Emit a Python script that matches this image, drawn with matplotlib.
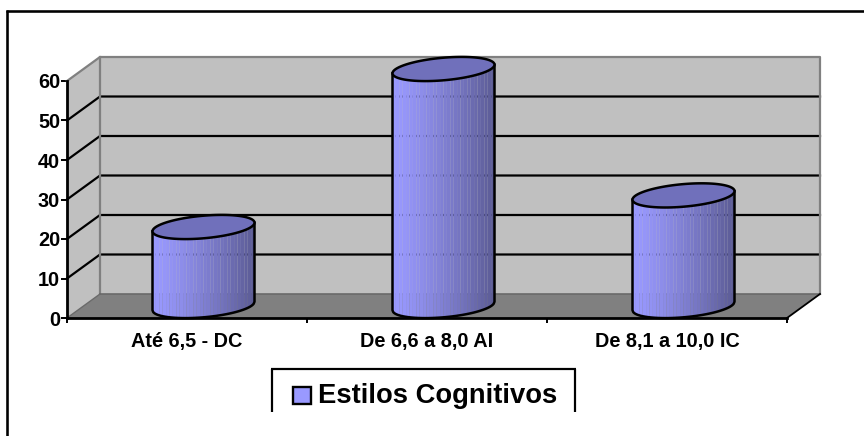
import numpy as np
import matplotlib
matplotlib.use("Agg")
import matplotlib.pyplot as plt
from matplotlib.lines import Line2D
from matplotlib.patches import Polygon, Rectangle

categories = ["Até 6,5 - DC", "De 6,6 a 8,0 AI", "De 8,1 a 10,0 IC"]
values = [20, 60, 28]
y_ticks = [0, 10, 20, 30, 40, 50, 60]
legend_label = "Estilos Cognitivos"

W, H = 864, 436
DPI = 100
plt.rcParams["font.family"] = ["Liberation Sans", "DejaVu Sans"]
plt.rcParams["font.weight"] = "bold"

fig = plt.figure(figsize=(W / DPI, H / DPI), dpi=DPI, facecolor="white")


def px_line(xs, ys, lw=2.6, color="black"):
    fig.add_artist(Line2D([x / W for x in xs], [1 - y / H for y in ys],
                          color=color, lw=lw * 72 / DPI,
                          solid_capstyle="butt", transform=fig.transFigure))


# Outer chart frame, open at the bottom and on the right
px_line([7, 7], [10, 436])
px_line([6, 864], [11, 11])

# Plot area: category units across, value units up
X0, X1, Y0, Y60 = 67, 787, 318, 81
ax = fig.add_axes([X0 / W, 1 - Y0 / H, (X1 - X0) / W, (Y0 - Y60) / H])
ax.set_xlim(0, len(categories))
ax.set_ylim(0, 60)
ax.patch.set_visible(False)
for s in ax.spines.values():
    s.set_visible(False)

# Pixel sizes expressed in data units
ux = len(categories) / (X1 - X0)
uy = 60 / (Y0 - Y60)
DX, DY = 33 * ux, 24 * uy
n = len(categories)

# Box: back wall, side wall, floor
ax.add_patch(Polygon([(DX, DY), (n + DX, DY), (n + DX, 60 + DY), (DX, 60 + DY)],
                     fc="#c0c0c0", ec="none", zorder=1, clip_on=False))
ax.add_patch(Polygon([(0, 0), (DX, DY), (DX, 60 + DY), (0, 60)],
                     fc="#c0c0c0", ec="none", zorder=1, clip_on=False))
ax.add_patch(Polygon([(0, 0), (n, 0), (n + DX, DY), (DX, DY)],
                     fc="#808080", ec="none", zorder=1, clip_on=False))

# Gridlines wrap from the side wall onto the back wall
for v in y_ticks[1:-1]:
    ax.plot([0, DX, n + DX], [v, v + DY, v + DY], color="black", lw=1.6,
            solid_joinstyle="miter", zorder=2, clip_on=False)

# Gray box edges
edge = dict(color="#808080", lw=1.6, zorder=2.5, clip_on=False)
ax.plot([0, DX, n + DX, n + DX], [60, 60 + DY, 60 + DY, DY], **edge)
ax.plot([DX, DX], [DY, 60 + DY], **edge)
ax.plot([DX, n + DX], [DY, DY], color="#6a6a6a", lw=1.2, zorder=2.5, clip_on=False)
ax.plot([0, DX], [0, DY], color="#6a6a6a", lw=1.0, zorder=2.5, clip_on=False)
ax.plot([n, n + DX], [0, DY], color="black", lw=1.3, zorder=2.5, clip_on=False)

# Cylinders, one per category
A_PX, SLOPE_PX, K_PX = 51, 4.3, 11.3
t = np.linspace(0, 2 * np.pi, 241)
c0 = np.array([0x99, 0x99, 0xff]) / 255
c1 = np.array([0x5c, 0x5c, 0x96]) / 255
cap_color = "#7070bb"
N_STRIPS = 30


def front_arc(u):
    # Lower half of the tilted ellipse, in value units about its centre
    return SLOPE_PX * uy * u - K_PX * uy * np.sqrt(np.clip(1 - u ** 2, 0, 1))


for i, v in enumerate(values):
    cx = i + 0.5 + DX / 2
    cy0 = DY / 2
    cy1 = v + DY / 2
    a = A_PX * ux

    # Shaded body, built from narrow vertical strips
    edges = np.linspace(-1, 1, N_STRIPS + 1)
    for j in range(N_STRIPS):
        us = np.linspace(edges[j], edges[j + 1], 6)
        lo = cy0 + front_arc(us)
        hi = cy1 + front_arc(us)
        f = (j / (N_STRIPS - 1)) ** 1.25
        ax.add_patch(Polygon(np.r_[np.c_[cx + a * us, lo], np.c_[cx + a * us[::-1], hi[::-1]]],
                             fc=c0 + (c1 - c0) * f, ec="none", zorder=3, clip_on=False))

    # Outline of the body
    us = np.linspace(-1, 1, 121)
    ax.plot(np.r_[cx - a, cx + a * us, cx + a],
            np.r_[cy1 + front_arc(np.array(-1.0)), cy0 + front_arc(us), cy1 + front_arc(np.array(1.0))],
            color="black", lw=1.8, zorder=4, clip_on=False)

    # Top cap
    cap = np.c_[cx + a * np.cos(t),
                cy1 + SLOPE_PX * uy * np.cos(t) + K_PX * uy * np.sin(t)]
    ax.add_patch(Polygon(cap, fc=cap_color, ec="black", lw=1.8, zorder=5, clip_on=False))

# Axis lines and ticks
ax.plot([0, 0], [0, 60], color="black", lw=2.0, zorder=6, clip_on=False)
ax.plot([0, n], [0, 0], color="black", lw=2.0, zorder=6, clip_on=False)
ax.set_xticks(range(n + 1))
ax.set_xticklabels([])
ax.set_yticks(y_ticks)
ax.set_yticklabels([str(v) for v in y_ticks], fontsize=14.3, fontweight="bold")
ax.tick_params(axis="y", direction="out", length=4, width=1.4, pad=1.0)
ax.tick_params(axis="x", direction="out", length=3.5, width=1.4)
for i, c in enumerate(categories):
    ax.annotate(c, (i + 0.5, 0), xytext=(0, -23 * 72 / DPI), textcoords="offset points",
                ha="center", va="center", fontsize=14.3, fontweight="bold", annotation_clip=False)

# Legend box, open at the bottom
px_line([272, 272], [369, 412], lw=2.2)
px_line([575, 575], [369, 412], lw=2.2)
px_line([271, 576], [369, 369], lw=2.2)
fig.add_artist(Rectangle((293 / W, 1 - 404 / H), 18 / W, 17.5 / H, fc="#9999ff", ec="black",
                         lw=1.7, transform=fig.transFigure))
fig.text(318.5 / W, 1 - 396 / H, legend_label, ha="left", va="center",
         fontsize=19.7, fontweight="bold")

fig.savefig("out.png", dpi=DPI)
